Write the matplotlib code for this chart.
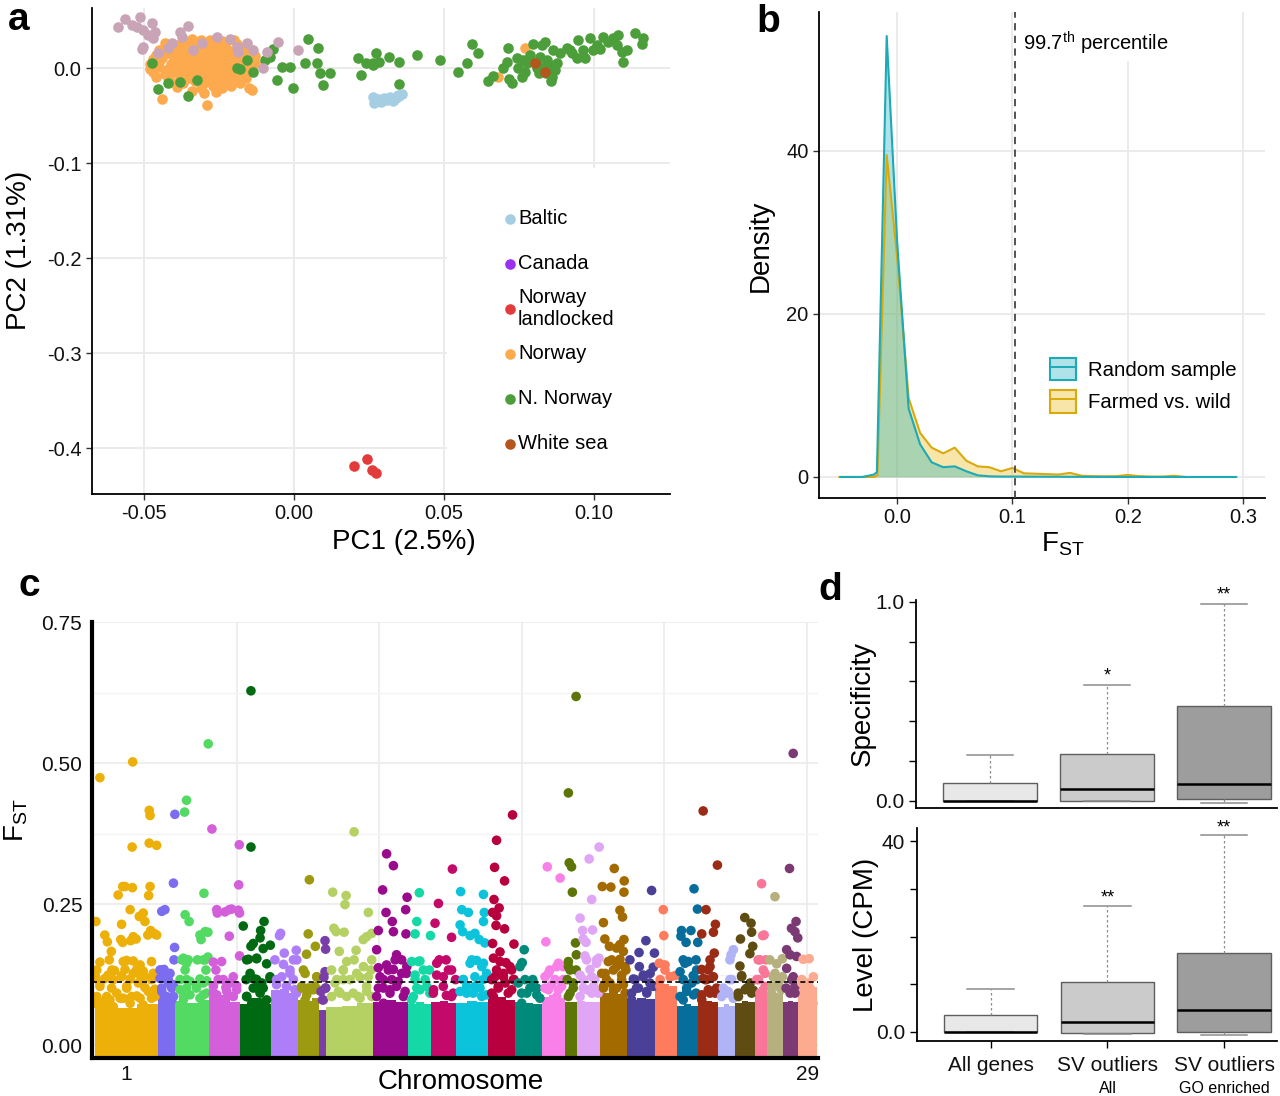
import numpy as np
import matplotlib
matplotlib.use('Agg')
import matplotlib.pyplot as plt
from matplotlib.patches import Patch, Rectangle
from matplotlib.lines import Line2D
from matplotlib.colors import to_rgba
import matplotlib.transforms as mtransforms

plt.rcParams['font.family'] = ['Liberation Sans', 'DejaVu Sans']
plt.rcParams['mathtext.fontset'] = 'custom'
plt.rcParams['mathtext.rm'] = 'Liberation Sans'
plt.rcParams['mathtext.it'] = 'Liberation Sans:italic'
plt.rcParams['mathtext.bf'] = 'Liberation Sans:bold'
plt.rcParams['axes.unicode_minus'] = False

# ---------------- Panel a data (PC1, PC2) ----------------
other_pts = [(-0.0586, 0.0435), (-0.0563, 0.0512), (-0.0541, 0.0453), (-0.0513, 0.0540), (-0.0524, 0.0435),
             (-0.0502, 0.0400), (-0.0474, 0.0470), (-0.0486, 0.0347), (-0.0463, 0.0382), (-0.0469, 0.0312),
             (-0.0502, 0.0225), (-0.0508, 0.0197), (-0.0380, 0.0382), (-0.0352, 0.0442), (-0.0374, 0.0330),
             (-0.0408, 0.0259), (-0.0419, 0.0207), (-0.0452, 0.0154), (-0.0308, 0.0259), (-0.0258, 0.0330),
             (-0.0213, 0.0302), (-0.0191, 0.0225), (-0.0158, 0.0267), (-0.0186, 0.0172), (-0.0136, 0.0189),
             (-0.0091, 0.0172), (-0.0052, 0.0277), (0.0014, 0.0189), (-0.0102, -0.0004), (-0.0336, 0.0189)]
norway_pts = [(-0.034, 0.031), (-0.031, 0.029), (-0.028, 0.030), (-0.024, 0.028), (-0.020, 0.030),
              (-0.043, 0.026), (-0.039, 0.024), (-0.036, 0.026), (-0.033, 0.025), (-0.030, 0.024), (-0.027, 0.026),
              (-0.023, 0.024), (-0.019, 0.025), (-0.016, 0.023),
              (-0.045, 0.019), (-0.041, 0.021), (-0.037, 0.020), (-0.034, 0.019), (-0.031, 0.021), (-0.028, 0.019),
              (-0.025, 0.021), (-0.022, 0.019), (-0.018, 0.020), (-0.014, 0.019),
              (-0.046, 0.014), (-0.042, 0.016), (-0.039, 0.014), (-0.036, 0.016), (-0.033, 0.014), (-0.030, 0.016),
              (-0.027, 0.014), (-0.024, 0.016), (-0.020, 0.014), (-0.017, 0.016), (-0.013, 0.013),
              (-0.047, 0.009), (-0.044, 0.011), (-0.040, 0.009), (-0.037, 0.011), (-0.034, 0.009), (-0.031, 0.011),
              (-0.028, 0.009), (-0.025, 0.011), (-0.022, 0.009), (-0.019, 0.011), (-0.015, 0.009),
              (-0.048, 0.004), (-0.045, 0.006), (-0.041, 0.004), (-0.038, 0.006), (-0.035, 0.004), (-0.032, 0.006),
              (-0.029, 0.004), (-0.026, 0.006), (-0.023, 0.004), (-0.020, 0.006), (-0.017, 0.004), (-0.013, 0.005),
              (-0.048, -0.001), (-0.045, 0.001), (-0.042, -0.001), (-0.039, 0.001), (-0.036, -0.001), (-0.033, 0.001),
              (-0.030, -0.001), (-0.027, 0.001), (-0.024, -0.001), (-0.021, 0.001), (-0.018, -0.001), (-0.014, 0.000),
              (-0.047, -0.004), (-0.043, -0.006), (-0.040, -0.004), (-0.037, -0.006), (-0.034, -0.004), (-0.031, -0.006),
              (-0.028, -0.004), (-0.025, -0.006), (-0.022, -0.004), (-0.019, -0.006), (-0.016, -0.004),
              (-0.046, -0.009), (-0.042, -0.011), (-0.038, -0.009), (-0.035, -0.011), (-0.032, -0.009), (-0.029, -0.011),
              (-0.026, -0.009), (-0.023, -0.011), (-0.020, -0.009), (-0.016, -0.011),
              (-0.041, -0.015), (-0.037, -0.016), (-0.033, -0.014), (-0.030, -0.016), (-0.027, -0.014), (-0.024, -0.016),
              (-0.021, -0.014), (-0.018, -0.016),
              (-0.039, -0.020), (-0.031, -0.021), (-0.027, -0.019), (-0.024, -0.021), (-0.021, -0.019), (-0.015, -0.021),
              (-0.030, -0.026), (-0.026, -0.025), (-0.034, -0.024),
              (-0.044, -0.033), (-0.029, -0.039), (-0.014, -0.023), (0.077, 0.021), (0.068, -0.009)]
nnorway_pts = [(-0.0452, -0.0221), (-0.0419, -0.0161), (-0.0352, -0.0295), (-0.0380, -0.0144), (-0.0324, -0.0126),
               (-0.0474, 0.0049), (-0.0191, 0.0000), (-0.0180, -0.0010), (-0.0136, -0.0039), (-0.0158, 0.0084),
               (-0.0097, 0.0084), (-0.0069, 0.0197), (-0.0080, 0.0119), (-0.0041, 0.0014), (-0.0013, 0.0014),
               (-0.0058, -0.0126), (-0.0004, -0.0207), (0.0048, 0.0302), (0.0081, 0.0207), (0.0037, 0.0049),
               (0.0076, 0.0049), (0.0087, -0.0049), (0.0120, -0.0056), (0.0098, -0.0179), (0.0213, 0.0102),
               (0.0241, 0.0049), (0.0274, 0.0154), (0.0224, -0.0074), (0.0263, 0.0032),
               (0.0264, 0.0049), (0.0284, 0.0067), (0.0317, 0.0119), (0.0351, 0.0067), (0.0409, 0.0137),
               (0.0351, -0.0168), (0.0487, 0.0084), (0.0546, -0.0046), (0.0576, 0.0049), (0.0592, 0.0249),
               (0.0614, 0.0154), (0.0648, -0.0137), (0.0664, -0.0081), (0.0695, -0.0004), (0.0714, 0.0207),
               (0.0718, -0.0119), (0.0726, -0.0161), (0.0709, 0.0067), (0.0742, 0.0102), (0.0748, -0.0004),
               (0.0759, -0.0091), (0.0770, -0.0039), (0.0764, 0.0084), (0.0787, 0.0137), (0.0798, 0.0249),
               (0.0776, 0.0049), (0.0809, 0.0049), (0.0826, 0.0242), (0.0837, 0.0277), (0.0820, 0.0119),
               (0.0842, 0.0084), (0.0853, 0.0032), (0.0870, -0.0021), (0.0859, -0.0091), (0.0856, -0.0137),
               (0.0831, -0.0004), (0.0809, -0.0004), (0.0876, 0.0049), (0.0864, 0.0189), (0.0887, 0.0154),
               (0.0909, 0.0207), (0.0926, 0.0154), (0.0920, 0.0189), (0.0942, 0.0102), (0.0948, 0.0295),
               (0.0969, 0.0102), (0.0964, 0.0189), (0.0987, 0.0312), (0.0998, 0.0189), (0.1020, 0.0196),
               (0.1009, 0.0242), (0.1031, 0.0330), (0.1048, 0.0277), (0.1064, 0.0312), (0.1081, 0.0347),
               (0.1076, 0.0242), (0.1092, 0.0172), (0.1109, 0.0189), (0.1098, 0.0067), (0.1137, 0.0365),
               (0.1164, 0.0312), (0.1159, 0.0249), (0.0815, -0.0050), (0.0840, -0.0050)]
baltic_pts = [(0.0265, -0.0300), (0.0268, -0.0370), (0.0280, -0.0330), (0.0290, -0.0360), (0.0310, -0.0340),
              (0.0320, -0.0310), (0.0330, -0.0350), (0.0340, -0.0320), (0.0350, -0.0290), (0.0360, -0.0270),
              (0.0345, -0.0280), (0.0300, -0.0320)]
canada_pts = []
landlocked_pts = [(0.0200, -0.4190), (0.0243, -0.4116), (0.0260, -0.4232), (0.0273, -0.4263)]
whitesea_pts = [(0.0837, -0.0045), (0.0803, 0.0049)]

legend_names = ['Baltic', 'Canada', 'Norway\nlandlocked', 'Norway', 'N. Norway', 'White sea']
legend_colors = ['#A6CEE3', '#9B30F0', '#E33B3B', '#FDAA4F', '#4B9E3A', '#B5561E']
other_color = '#C9A3B6'

# ---------------- Panel b data (frequency polygons) ----------------
rand_x = [-0.049, -0.04, -0.03, -0.02, -0.0175, -0.009, 0.0, 0.010, 0.020, 0.030, 0.040, 0.050, 0.060, 0.070,
          0.080, 0.090, 0.100, 0.150, 0.200, 0.250, 0.294]
rand_y = [0.0, 0.0, 0.0, 0.3, 0.6, 54.1, 29.0, 8.4, 4.0, 1.8, 1.2, 1.3, 0.7, 0.2, 0.08, 0.05, 0.05, 0.02, 0.0, 0.0, 0.0]
farm_x = [-0.05, -0.03, -0.02, -0.017, -0.009, 0.0, 0.010, 0.020, 0.030, 0.040, 0.050, 0.060, 0.070, 0.080,
          0.090, 0.100, 0.110, 0.120, 0.130, 0.140, 0.150, 0.160, 0.170, 0.180, 0.190, 0.200, 0.210, 0.220,
          0.230, 0.240, 0.250]
farm_y = [0.0, 0.0, 0.0, 0.2, 39.5, 27.0, 9.7, 5.4, 3.6, 2.9, 3.6, 2.0, 1.3, 1.2, 0.7, 1.1, 0.45, 0.4, 0.35, 0.3,
          0.5, 0.15, 0.1, 0.08, 0.1, 0.25, 0.1, 0.05, 0.05, 0.15, 0.0]
percentile_997 = 0.1023

# ---------------- Panel c data (Manhattan) ----------------
chrom_len = [222, 62, 117, 110, 109, 93, 74, 26, 164, 123, 82, 88, 111, 94, 94, 82, 42, 81, 96, 97, 76, 76, 70,
             59, 70, 41, 58, 53, 65]
chrom_colors = ['#EDB008', '#7B6CF0', '#52DA62', '#D35FDB', '#006A12', '#AD7EF7', '#9C9A10', '#7A3EA8', '#B5D163',
                '#990A8C', '#14D9A6', '#C30A6A', '#0BC4DC', '#B8003E', '#008A7A', '#F880E8', '#5D7505', '#E0A5F5',
                '#A36A00', '#4B4098', '#FF7B5E', '#076E9C', '#9A2B15', '#B0B3F5', '#5E4C12', '#FA7698', '#B5B07D',
                '#7C3A74', '#FCAA90']
# height of the saturated bulk of SNPs (left / middle / right third of each chromosome)
chrom_core = [[0.072, 0.066, 0.072], [0.088, 0.086, 0.078], [0.078, 0.074, 0.080], [0.086, 0.088, 0.076],
              [0.073, 0.083, 0.073], [0.098, 0.100, 0.092], [0.080, 0.078, 0.083], [0.062, 0.062, 0.062],
              [0.068, 0.070, 0.074], [0.076, 0.080, 0.076], [0.073, 0.076, 0.073], [0.076, 0.078, 0.074],
              [0.074, 0.078, 0.076], [0.082, 0.086, 0.080], [0.076, 0.074, 0.072], [0.086, 0.088, 0.084],
              [0.076, 0.076, 0.076], [0.078, 0.076, 0.076], [0.092, 0.096, 0.090], [0.080, 0.084, 0.082],
              [0.104, 0.108, 0.104], [0.070, 0.072, 0.070], [0.074, 0.078, 0.076], [0.068, 0.072, 0.070],
              [0.074, 0.078, 0.076], [0.100, 0.103, 0.100], [0.090, 0.093, 0.090], [0.076, 0.078, 0.076],
              [0.102, 0.106, 0.102]]
fst_threshold = 0.112
# individual SNPs above the saturated bulk: (genomic position in Mb, FST)
snp_pts = [
    # chr1
    (19, 0.474), (134, 0.502), (192, 0.416), (195, 0.407), (132, 0.351), (192, 0.358), (218, 0.354),
    (99, 0.281), (107, 0.281), (133, 0.279), (195, 0.281), (83, 0.266), (190, 0.265),
    (125, 0.240), (171, 0.234), (157, 0.228), (177, 0.219), (5, 0.219), (95, 0.214),
    (36, 0.195), (45, 0.183), (92, 0.187), (99, 0.182), (127, 0.185), (136, 0.192), (146, 0.188), (187, 0.195),
    (197, 0.203), (212, 0.197), (218, 0.195),
    (59, 0.166), (19, 0.147), (52, 0.151), (101, 0.148), (113, 0.150), (136, 0.149), (200, 0.148), (160, 0.142),
    (8, 0.133), (61, 0.133), (70, 0.132), (107, 0.134), (148, 0.134), (171, 0.131),
    (37, 0.118), (5, 0.120), (95, 0.123), (160, 0.124), (204, 0.120), (125, 0.117),
    (19, 0.104), (60, 0.101), (113, 0.101), (177, 0.102), (212, 0.099), (43, 0.086), (90, 0.083), (148, 0.087),
    (200, 0.083), (2, 0.074), (125, 0.074), (66, 0.068), (171, 0.071),
    (8, 0.086), (31, 0.077), (54, 0.080), (78, 0.092), (101, 0.083), (130, 0.086), (160, 0.083), (189, 0.095),
    (212, 0.086), (19, 0.110), (66, 0.116), (113, 0.104), (154, 0.110), (200, 0.116), (2, 0.121), (48, 0.124),
    (95, 0.121), (136, 0.127), (177, 0.121), (206, 0.127),
    # chr2
    (282, 0.409), (277, 0.287), (236, 0.237), (247, 0.240), (281, 0.173), (279, 0.151), (233, 0.133), (244, 0.134),
    (265, 0.127), (230, 0.118), (259, 0.116), (277, 0.107), (236, 0.101), (253, 0.086), (271, 0.080),
    (230, 0.133), (241, 0.121), (259, 0.110), (271, 0.101), (236, 0.095), (277, 0.086), (253, 0.083),
    # chr3
    (399, 0.534), (323, 0.434), (316, 0.413), (384, 0.269), (318, 0.231), (332, 0.219), (370, 0.195), (388, 0.201),
    (398, 0.200), (374, 0.187), (312, 0.154), (329, 0.151), (361, 0.151), (382, 0.151), (398, 0.156), (318, 0.133),
    (391, 0.133), (300, 0.116), (335, 0.113), (370, 0.117), (394, 0.114), (323, 0.101), (358, 0.104), (312, 0.086),
    (382, 0.089),
    (300, 0.098), (323, 0.116), (335, 0.089), (358, 0.101), (382, 0.110), (394, 0.092), (312, 0.080), (370, 0.083),
    (306, 0.151), (323, 0.145), (388, 0.151),
    # chr4
    (412, 0.383), (508, 0.355), (506, 0.284), (429, 0.240), (431, 0.234), (458, 0.236), (473, 0.240), (481, 0.241),
    (505, 0.239), (509, 0.234), (473, 0.193), (417, 0.147), (446, 0.148), (509, 0.158), (426, 0.133), (434, 0.116),
    (461, 0.102), (475, 0.110), (499, 0.105), (417, 0.092), (487, 0.086),
    (417, 0.104), (452, 0.116), (475, 0.110), (499, 0.098), (429, 0.089), (487, 0.121), (464, 0.095),
    # chr5
    (549, 0.628), (549, 0.351), (522, 0.211), (595, 0.219), (583, 0.203), (581, 0.190), (549, 0.175), (557, 0.180),
    (592, 0.171), (617, 0.177), (540, 0.152), (569, 0.153), (604, 0.144), (616, 0.118), (532, 0.116), (563, 0.117),
    (569, 0.102), (592, 0.101), (534, 0.086), (581, 0.092), (604, 0.080), (552, 0.074),
    (534, 0.086), (557, 0.101), (581, 0.095), (598, 0.077), (569, 0.116), (546, 0.127), (587, 0.110), (616, 0.121),
    (534, 0.151), (569, 0.154),
    # chr6
    (653, 0.198), (649, 0.194), (708, 0.168), (666, 0.163), (633, 0.151), (663, 0.143), (698, 0.151), (710, 0.151),
    (686, 0.127), (639, 0.116), (674, 0.104), (703, 0.098), (651, 0.086),
    (639, 0.107), (674, 0.104), (698, 0.116), (657, 0.121), (686, 0.133), (709, 0.092),
    # chr7
    (754, 0.293), (750, 0.197), (775, 0.175), (744, 0.161), (733, 0.133), (780, 0.121), (756, 0.101), (727, 0.101),
    (768, 0.098), (739, 0.080),
    (727, 0.104), (750, 0.101), (774, 0.104), (784, 0.098), (745, 0.089), (780, 0.121), (739, 0.127),
    # chr8
    (809, 0.185), (811, 0.170), (805, 0.120), (811, 0.101), (800, 0.080), (795, 0.095),
    (803, 0.080), (809, 0.130), (811, 0.101),
    # chr9
    (911, 0.378), (836, 0.271), (883, 0.265), (879, 0.249), (961, 0.235), (840, 0.207), (848, 0.201), (876, 0.200),
    (943, 0.187), (955, 0.192), (973, 0.198), (859, 0.166), (918, 0.168), (973, 0.151), (885, 0.148), (911, 0.151),
    (832, 0.133), (873, 0.133), (970, 0.133), (932, 0.120), (850, 0.116), (897, 0.116), (955, 0.104), (862, 0.092),
    (926, 0.086),
    (832, 0.086), (856, 0.095), (885, 0.086), (908, 0.092), (932, 0.083), (955, 0.095), (973, 0.086), (844, 0.110),
    (873, 0.116), (920, 0.127), (961, 0.121), (873, 0.133), (944, 0.139),
    # chr10
    (1025, 0.339), (1049, 0.318), (1011, 0.275), (1097, 0.262), (1023, 0.235), (1092, 0.240), (1045, 0.219),
    (996, 0.203), (1049, 0.201), (1093, 0.197), (990, 0.169), (1060, 0.160), (1078, 0.151), (996, 0.137),
    (1031, 0.133), (1049, 0.134), (1095, 0.127), (1014, 0.116), (1066, 0.113), (996, 0.101), (1037, 0.098),
    (1084, 0.086), (1014, 0.074),
    (990, 0.086), (1014, 0.101), (1037, 0.092), (1060, 0.104), (1090, 0.095), (1002, 0.121), (1043, 0.116),
    (1078, 0.127), (1025, 0.142), (1055, 0.151), (1096, 0.139),
    # chr11
    (1140, 0.270), (1131, 0.219), (1125, 0.197), (1179, 0.194), (1142, 0.149), (1113, 0.148), (1175, 0.133),
    (1125, 0.124), (1160, 0.116), (1131, 0.101), (1177, 0.092), (1113, 0.080),
    (1119, 0.086), (1142, 0.098), (1166, 0.104), (1180, 0.092), (1125, 0.116), (1154, 0.133), (1136, 0.148),
    # chr12
    (1256, 0.312), (1207, 0.251), (1195, 0.216), (1253, 0.191), (1210, 0.151), (1234, 0.151), (1242, 0.133),
    (1201, 0.124), (1267, 0.116), (1224, 0.104), (1189, 0.092), (1253, 0.086),
    (1201, 0.145), (1224, 0.121), (1259, 0.092), (1253, 0.133), (1190, 0.098), (1235, 0.088),
    # chr13
    (1285, 0.272), (1365, 0.267), (1289, 0.240), (1312, 0.235), (1368, 0.235), (1365, 0.219), (1283, 0.213),
    (1292, 0.201), (1318, 0.194), (1335, 0.198), (1350, 0.187), (1370, 0.181), (1324, 0.151), (1341, 0.150),
    (1365, 0.145), (1376, 0.127), (1294, 0.116), (1335, 0.104), (1306, 0.092), (1359, 0.086),
    (1283, 0.095), (1306, 0.104), (1329, 0.092), (1353, 0.101), (1376, 0.089), (1294, 0.116), (1335, 0.121),
    (1364, 0.116), (1318, 0.145), (1359, 0.139),
    # chr14
    (1467, 0.408), (1411, 0.363), (1404, 0.315), (1439, 0.291), (1402, 0.258), (1420, 0.243), (1397, 0.235),
    (1411, 0.229), (1409, 0.212), (1439, 0.206), (1397, 0.180), (1472, 0.179), (1423, 0.165), (1400, 0.154),
    (1444, 0.146), (1464, 0.133), (1411, 0.133), (1435, 0.121), (1394, 0.116), (1470, 0.116), (1417, 0.101),
    (1452, 0.092), (1400, 0.086),
    (1394, 0.092), (1417, 0.104), (1441, 0.110), (1464, 0.098), (1405, 0.121), (1435, 0.127), (1472, 0.116),
    (1423, 0.148), (1458, 0.139),
    # chr15
    (1508, 0.169), (1501, 0.146), (1493, 0.139), (1538, 0.116), (1487, 0.110), (1552, 0.101), (1517, 0.092),
    (1563, 0.083), (1499, 0.074),
    (1499, 0.092), (1528, 0.101), (1552, 0.089), (1511, 0.116), (1540, 0.110), (1499, 0.145),
    # chr16
    (1589, 0.316), (1634, 0.296), (1584, 0.183), (1628, 0.145), (1645, 0.139), (1598, 0.133), (1581, 0.121),
    (1616, 0.116), (1639, 0.104), (1593, 0.098), (1622, 0.086),
    (1581, 0.101), (1604, 0.107), (1628, 0.098), (1645, 0.116), (1593, 0.127), (1622, 0.139),
    # chr17
    (1663, 0.447), (1690, 0.618), (1666, 0.323), (1674, 0.316), (1677, 0.271), (1688, 0.181), (1691, 0.160),
    (1663, 0.148), (1669, 0.133), (1659, 0.116), (1680, 0.101), (1663, 0.086),
    (1669, 0.092), (1680, 0.110), (1663, 0.139), (1690, 0.133),
    # chr18
    (1771, 0.351), (1736, 0.330), (1745, 0.258), (1704, 0.225), (1713, 0.203), (1748, 0.204), (1715, 0.188),
    (1725, 0.182), (1721, 0.158), (1762, 0.151), (1770, 0.154), (1739, 0.134), (1704, 0.124), (1756, 0.116),
    (1715, 0.101), (1745, 0.092),
    (1704, 0.086), (1727, 0.098), (1751, 0.104), (1768, 0.092), (1715, 0.116), (1745, 0.121), (1762, 0.145),
    (1727, 0.151),
    # chr19
    (1824, 0.313), (1782, 0.281), (1812, 0.280), (1859, 0.291), (1858, 0.271), (1844, 0.239), (1853, 0.227),
    (1786, 0.217), (1791, 0.188), (1858, 0.187), (1807, 0.175), (1832, 0.172), (1844, 0.178), (1856, 0.166),
    (1815, 0.151), (1844, 0.152), (1780, 0.127), (1832, 0.139), (1865, 0.133), (1797, 0.116), (1850, 0.116),
    (1786, 0.101), (1821, 0.098), (1862, 0.092),
    (1786, 0.104), (1809, 0.110), (1832, 0.101), (1856, 0.107), (1792, 0.127), (1821, 0.133), (1850, 0.124),
    (1803, 0.148), (1838, 0.145), (1862, 0.139),
    # chr20
    (1955, 0.274), (1935, 0.185), (1911, 0.164), (1965, 0.163), (1879, 0.151), (1912, 0.139), (1961, 0.138),
    (1891, 0.117), (1926, 0.124), (1949, 0.110), (1902, 0.101), (1938, 0.092), (1885, 0.080),
    (1885, 0.092), (1909, 0.101), (1938, 0.095), (1961, 0.104), (1897, 0.116), (1926, 0.121), (1950, 0.127),
    # chr21
    (1996, 0.240), (1998, 0.194), (1982, 0.145), (2002, 0.142), (2037, 0.123), (1984, 0.104), (2019, 0.092),
    (1985, 0.116), (2020, 0.121), (2002, 0.133),
    # chr22
    (2104, 0.277), (2116, 0.241), (2060, 0.203), (2093, 0.203), (2058, 0.193), (2076, 0.182), (2117, 0.182),
    (2066, 0.151), (2084, 0.148), (2111, 0.151), (2055, 0.130), (2101, 0.123), (2113, 0.116), (2078, 0.101),
    (2111, 0.092), (2066, 0.080),
    (2055, 0.086), (2078, 0.095), (2102, 0.089), (2066, 0.116), (2096, 0.110), (2113, 0.133), (2072, 0.145),
    # chr23
    (2136, 0.415), (2186, 0.319), (2146, 0.240), (2131, 0.197), (2172, 0.200), (2179, 0.214), (2175, 0.163),
    (2160, 0.151), (2131, 0.134), (2154, 0.133), (2136, 0.118), (2148, 0.116), (2183, 0.101), (2160, 0.092),
    (2131, 0.080),
    (2131, 0.089), (2154, 0.098), (2178, 0.092), (2143, 0.116), (2172, 0.121), (2160, 0.139),
    # chr24
    (2242, 0.169), (2234, 0.160), (2230, 0.151), (2236, 0.116), (2207, 0.101), (2218, 0.092), (2242, 0.083),
    (2201, 0.086), (2224, 0.095), (2242, 0.083), (2230, 0.116),
    # chr25
    (2282, 0.226), (2304, 0.216), (2267, 0.188), (2306, 0.200), (2310, 0.175), (2300, 0.162), (2265, 0.140),
    (2271, 0.123), (2289, 0.101), (2312, 0.097), (2259, 0.092),
    (2260, 0.086), (2283, 0.098), (2306, 0.092), (2271, 0.121), (2301, 0.110),
    # chr26
    (2341, 0.286), (2345, 0.194), (2350, 0.195), (2329, 0.151), (2356, 0.151), (2347, 0.133), (2324, 0.116),
    (2353, 0.104), (2335, 0.092),
    (2330, 0.116), (2353, 0.127), (2336, 0.151),
    # chr27
    (2388, 0.263), (2414, 0.153), (2394, 0.144), (2382, 0.121), (2414, 0.121), (2370, 0.151), (2400, 0.104),
    (2376, 0.092),
    (2377, 0.104), (2400, 0.110), (2388, 0.127), (2410, 0.098),
    # chr28
    (2452, 0.517), (2439, 0.313), (2462, 0.219), (2446, 0.207), (2458, 0.201), (2468, 0.190), (2429, 0.169),
    (2441, 0.160), (2464, 0.157), (2429, 0.136), (2452, 0.121), (2427, 0.101), (2458, 0.092),
    (2441, 0.092), (2458, 0.104), (2447, 0.116),
    # chr29
    (2487, 0.152), (2508, 0.153), (2482, 0.110), (2511, 0.101), (2493, 0.086), (2522, 0.074),
    (2482, 0.116), (2505, 0.110), (2523, 0.121),
]

# ---------------- Panel d data (boxplot statistics) ----------------
gene_groups = ['All genes', 'SV outliers', 'SV outliers']
gene_subgroups = ['', 'All', 'GO enriched']
box_colors = ['#E8E8E8', '#CBCBCB', '#9D9D9D']
spec_lo = [0.0, -0.002, -0.010]
spec_q1 = [0.0, -0.002, 0.007]
spec_med = [0.0, 0.059, 0.086]
spec_q3 = [0.091, 0.236, 0.476]
spec_hi = [0.228, 0.581, 0.990]
spec_sig = ['', '*', '**']
cpm_lo = [0.0, -0.35, -0.6]
cpm_q1 = [0.0, -0.2, 0.0]
cpm_med = [0.0, 2.1, 4.6]
cpm_q3 = [3.5, 10.4, 16.5]
cpm_hi = [9.1, 26.5, 41.3]
cpm_sig = ['', '**', '**']

# =====================================================================
fig = plt.figure(figsize=(12.8, 10.96), dpi=100)


def fr(l, t, r, b):
    return [l / 1280, 1 - b / 1096, (r - l) / 1280, (b - t) / 1096]


GRID = '#EBEBEB'

# ---------------- Panel a ----------------
axA = fig.add_axes(fr(92, 8, 670, 494))
axA.set_xlim(-0.0673, 0.1253)
axA.set_ylim(-0.4484, 0.0632)
axA.grid(True, color=GRID, lw=1.4)
axA.set_axisbelow(True)
for s in ['top', 'right']:
    axA.spines[s].set_visible(False)
for s in ['left', 'bottom']:
    axA.spines[s].set_linewidth(1.3)
axA.add_patch(Rectangle((0.614, 0), 0.386, 0.671, transform=axA.transAxes, fc='white', ec='none', zorder=0.8))

S_A = 58


def sc(ax, pts, col):
    if len(pts):
        a = np.array(pts)
        ax.scatter(a[:, 0], a[:, 1], s=S_A, color=col, lw=0, zorder=2)


sc(axA, norway_pts, legend_colors[3])
sc(axA, nnorway_pts, legend_colors[4])
sc(axA, other_pts, other_color)
sc(axA, baltic_pts, legend_colors[0])
sc(axA, canada_pts, legend_colors[1])
sc(axA, landlocked_pts, legend_colors[2])
sc(axA, whitesea_pts, legend_colors[5])

for i, (name, col) in enumerate(zip(legend_names, legend_colors)):
    yy = 0.566 - i * 0.0926
    axA.scatter([0.723], [yy], transform=axA.transAxes, s=S_A, color=col, lw=0, zorder=3, clip_on=False)
    axA.text(0.737, yy, name, transform=axA.transAxes, va='center', ha='left', fontsize=14.5, zorder=3)

axA.set_xticks([-0.05, 0.0, 0.05, 0.10])
axA.set_xticklabels(['-0.05', '0.00', '0.05', '0.10'])
axA.set_yticks([0.0, -0.1, -0.2, -0.3, -0.4])
axA.set_yticklabels(['0.0', '-0.1', '-0.2', '-0.3', '-0.4'])
axA.tick_params(labelsize=14.5, length=4, width=1, color='#333333', labelcolor='#111111')
axA.set_xlabel('PC1 (2.5%)', fontsize=20)
axA.set_ylabel('PC2 (1.31%)', fontsize=20)
axA.xaxis.set_label_coords(0.54, -0.072)
axA.yaxis.set_label_coords(-0.104, 0.502)

# ---------------- Panel b ----------------
axB = fig.add_axes(fr(819, 12, 1265, 498))
axB.set_xlim(-0.0677, 0.319)
axB.set_ylim(-2.58, 57.05)
axB.grid(True, color=GRID, lw=1.4)
axB.set_axisbelow(True)
for s in ['top', 'right']:
    axB.spines[s].set_visible(False)
for s in ['left', 'bottom']:
    axB.spines[s].set_linewidth(1.3)
TEAL = '#1BAAB6'
GOLD = '#D9AA0C'
TEAL_F = to_rgba('#22B4C2', 0.36)
GOLD_F = to_rgba('#EBC02C', 0.40)
axB.fill_between(farm_x, farm_y, 0, color=GOLD_F, lw=0, zorder=2)
axB.fill_between(rand_x, rand_y, 0, color=TEAL_F, lw=0, zorder=2.1)
axB.plot(farm_x, farm_y, color=GOLD, lw=1.5, zorder=3)
axB.plot(rand_x, rand_y, color=TEAL, lw=1.5, zorder=3.1)
axB.add_patch(Rectangle((0.106, 51.0), 0.16, 8, fc='white', ec='none', zorder=1))
axB.axvline(percentile_997, color='#444444', ls=(0, (4, 3)), lw=1.3, zorder=4)
axB.text(0.1093, 53.2, r'99.7$^{\mathrm{th}}$ percentile', fontsize=14.5, va='center', ha='left', zorder=5)
handles = [(Patch(fc=TEAL_F, ec=TEAL, lw=1.5), Line2D([], [], color=TEAL, lw=1.4)),
           (Patch(fc=GOLD_F, ec=GOLD, lw=1.5), Line2D([], [], color=GOLD, lw=1.4))]
axB.legend(handles, ['Random sample', 'Farmed vs. wild'], loc='upper left', bbox_to_anchor=(0.518, 0.288),
           frameon=False, fontsize=14.7, handlelength=1.25, handleheight=1.3, handletextpad=0.6,
           labelspacing=0.5, borderpad=0, borderaxespad=0)
axB.set_xticks([0.0, 0.1, 0.2, 0.3])
axB.set_xticklabels(['0.0', '0.1', '0.2', '0.3'])
axB.set_yticks([0, 20, 40])
axB.tick_params(labelsize=14.5, length=4, width=1, color='#333333', labelcolor='#111111')
axB.set_xlabel(r'F$_{\mathrm{ST}}$', fontsize=20)
axB.set_ylabel('Density', fontsize=20)
axB.xaxis.set_label_coords(0.547, -0.066)
axB.yaxis.set_label_coords(-0.101, 0.518)

# ---------------- Panel c ----------------
axC = fig.add_axes(fr(92, 622, 818, 1058))
c_ylo = -0.023
axC.set_xlim(-8.8, 2539)
axC.set_ylim(c_ylo, 0.75)
chrom_end = np.cumsum(chrom_len)
chrom_start = chrom_end - np.array(chrom_len)
seg_x, seg_w, seg_h, seg_c = [], [], [], []
for st, ln, prof, col in zip(chrom_start, chrom_len, chrom_core, chrom_colors):
    for k, h in enumerate(prof):
        seg_x.append(st + k * ln / 3)
        seg_w.append(ln / 3)
        seg_h.append(h - c_ylo)
        seg_c.append(col)
axC.bar(seg_x, seg_h, width=seg_w, bottom=c_ylo, align='edge', color=seg_c, lw=0, zorder=2)
pts = np.array(snp_pts)
cidx = np.clip(np.searchsorted(chrom_end, pts[:, 0], side='right'), 0, len(chrom_len) - 1)
order = np.argsort(cidx, kind='stable')
axC.scatter(pts[order, 0], pts[order, 1], s=48, c=[chrom_colors[i] for i in cidx[order]], lw=0, zorder=3)
axC.axhline(fst_threshold, color='black', ls=(0, (3, 2)), lw=1.2, zorder=4)
axC.set_yticks([0.0, 0.25, 0.5, 0.75])
axC.set_yticklabels(['0.00', '0.25', '0.50', '0.75'])
axC.set_yticks([0.125, 0.375, 0.625], minor=True)
centers = chrom_start + np.array(chrom_len) / 2
axC.set_xticks([centers[0], centers[-1]])
axC.set_xticklabels(['1', '29'])
axC.set_xticks([500, 1000, 1500, 2000, 2500], minor=True)
axC.grid(True, which='major', axis='y', color=GRID, lw=1.2)
axC.grid(True, which='minor', axis='y', color='#F3F3F3', lw=1.0)
axC.grid(True, which='minor', axis='x', color=GRID, lw=1.2)
axC.set_axisbelow(True)
for s in ['top', 'right']:
    axC.spines[s].set_visible(False)
for s in ['left', 'bottom']:
    axC.spines[s].set_linewidth(3.0)
    axC.spines[s].set_zorder(5)
axC.tick_params(which='both', length=0, labelsize=15, labelcolor='#111111')
axC.tick_params(axis='y', pad=7)
axC.tick_params(axis='x', pad=5)
axC.set_xlabel('Chromosome', fontsize=20)
axC.set_ylabel(r'F$_{\mathrm{ST}}$', fontsize=20)
axC.xaxis.set_label_coords(0.508, -0.026)
axC.yaxis.set_label_coords(-0.085, 0.546)

# ---------------- Panel d ----------------
def draw_box(ax, lo, q1, med, q3, hi):
    stats = [dict(whislo=lo[i], q1=q1[i], med=med[i], q3=q3[i], whishi=hi[i], fliers=[]) for i in range(3)]
    bp = ax.bxp(stats, positions=[1, 2, 3], widths=0.8, capwidths=0.4, patch_artist=True, showfliers=False,
                boxprops=dict(edgecolor='#5E5E5E', lw=1.0),
                whiskerprops=dict(color='#8C8C8C', ls=(0, (2, 2)), lw=0.9),
                capprops=dict(color='#8C8C8C', lw=1.1),
                medianprops=dict(color='black', lw=1.8))
    for p, c in zip(bp['boxes'], box_colors):
        p.set_facecolor(c)
    for s in ['top', 'right']:
        ax.spines[s].set_visible(False)
    for s in ['left', 'bottom']:
        ax.spines[s].set_linewidth(1.3)
    ax.set_xlim(0.368, 3.453)


axD1 = fig.add_axes(fr(916, 600, 1277, 808))
draw_box(axD1, spec_lo, spec_q1, spec_med, spec_q3, spec_hi)
axD1.set_ylim(-0.037, 1.01)
axD1.set_yticks([0.0, 0.2, 0.4, 0.6, 0.8, 1.0])
axD1.set_yticklabels(['0.0', '', '', '', '', '1.0'])
axD1.set_xticks([])
axD1.tick_params(axis='y', labelsize=15, length=5, width=1, labelcolor='#111111')
for i, t in enumerate(spec_sig):
    if t:
        axD1.text(i + 1, spec_hi[i] + 0.045, t, ha='center', va='center', fontsize=13, clip_on=False)
axD1.set_ylabel('Specificity', fontsize=20)
axD1.yaxis.set_label_coords(-0.111, 0.5)

axD2 = fig.add_axes(fr(917, 828, 1277, 1041))
draw_box(axD2, cpm_lo, cpm_q1, cpm_med, cpm_q3, cpm_hi)
axD2.set_ylim(-1.9, 42.8)
axD2.set_yticks([0, 10, 20, 30, 40])
axD2.set_yticklabels(['0.0', '', '', '', '40'])
axD2.set_xticks([1, 2, 3])
axD2.set_xticklabels(gene_groups)
axD2.tick_params(axis='y', labelsize=15, length=5, width=1, labelcolor='#111111')
axD2.tick_params(axis='x', labelsize=15, length=5, width=1, pad=6, labelcolor='#111111')
for i, t in enumerate(cpm_sig):
    if t:
        axD2.text(i + 1, cpm_hi[i] + 1.6, t, ha='center', va='center', fontsize=13, clip_on=False)
trans = mtransforms.blended_transform_factory(axD2.transData, axD2.transAxes)
for i, t in enumerate(gene_subgroups):
    if t:
        axD2.text(i + 1, -0.222, t, transform=trans, ha='center', va='center', fontsize=11.5)
axD2.set_ylabel('Level (CPM)', fontsize=20)
axD2.yaxis.set_label_coords(-0.106, 0.5)

# ---------------- panel letters ----------------
for lab, x, y in [('a', 8, 2), ('b', 756, 4), ('c', 18, 568), ('d', 818, 572)]:
    fig.text(x / 1280, 1 - y / 1096, lab, fontsize=28, fontweight='bold', ha='left', va='top')

fig.savefig('out.png', dpi=100, facecolor='white')
